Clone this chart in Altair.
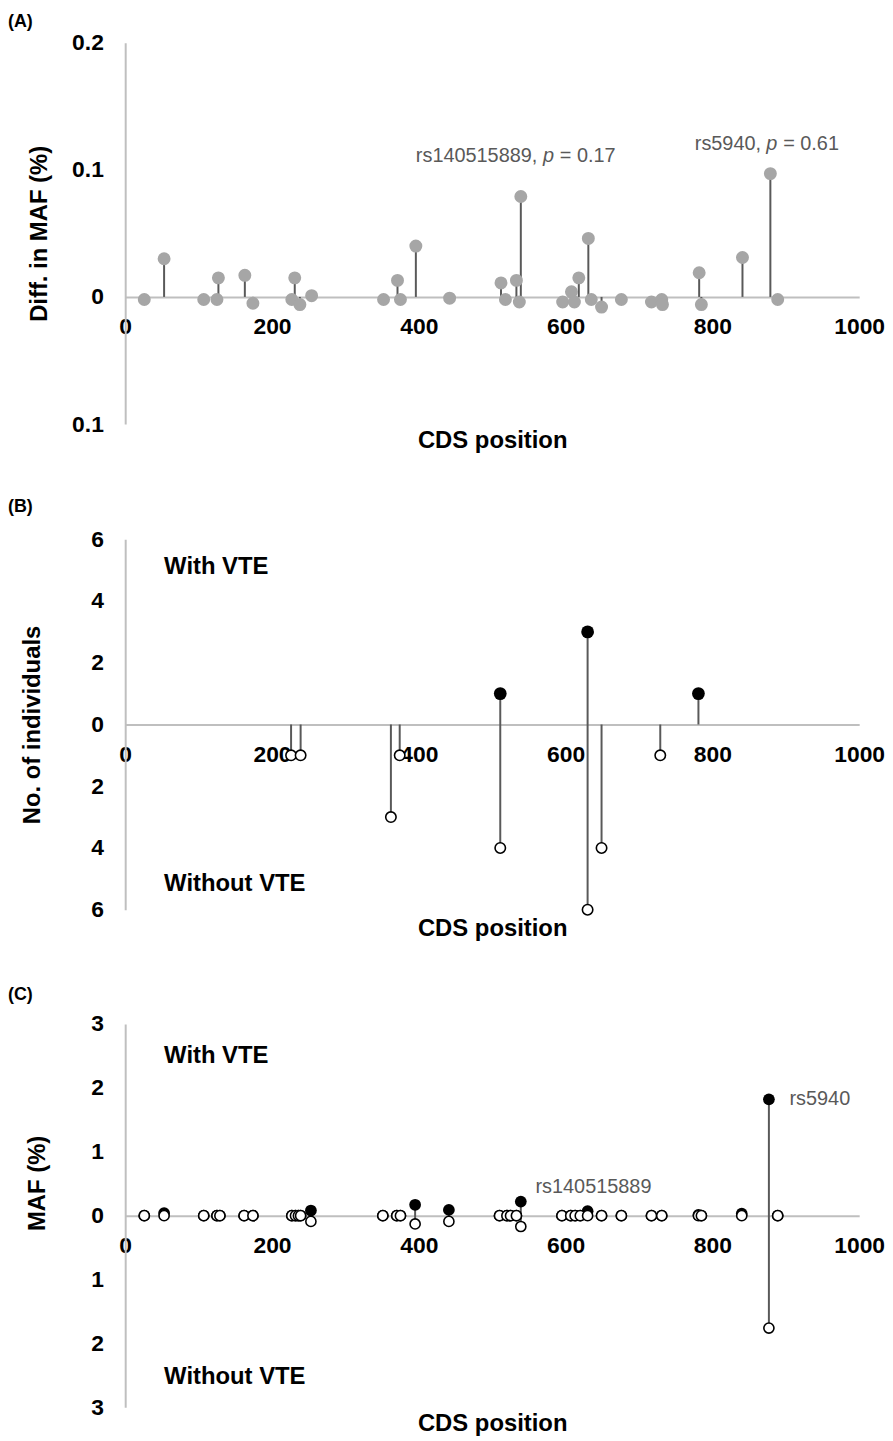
import altair as alt
import pandas as pd

# ---------------- data ----------------
x_ticks = [0, 200, 400, 600, 800, 1000]

# Panel A: difference in MAF (%)
pos_a = [26, 53, 107, 125, 127, 163, 174, 227, 231, 238, 254, 352, 371, 375, 396, 442,
         512, 518, 533, 537, 539, 596, 608, 612, 618, 631, 635, 649, 676, 717, 731, 732,
         782, 785, 841, 879, 889]
diff_a = [-0.002, 0.030, -0.002, -0.002, 0.015, 0.017, -0.005, -0.002, 0.015, -0.006, 0.001,
          -0.002, 0.013, -0.002, 0.040, -0.001, 0.011, -0.002, 0.013, -0.004, 0.079, -0.004,
          0.004, -0.004, 0.015, 0.046, -0.002, -0.008, -0.002, -0.004, -0.002, -0.006,
          0.019, -0.006, 0.031, 0.097, -0.002]
ya_ticks = [-0.1, 0, 0.1, 0.2]
ann_a_pos = [396, 776]
ann_a_val = [0.111, 0.120]
ann_a_prefix = ["rs140515889,", "rs5940,"]
ann_a_suffix = ["= 0.17", "= 0.61"]

# Panel B: number of individuals
pos_b = [226, 239, 362, 374, 511, 630, 649, 729, 781]
with_b = [0, 0, 0, 0, 1, 3, 0, 0, 1]
without_b = [1, 1, 3, 1, 4, 6, 4, 1, 0]
yb_ticks = [-6, -4, -2, 0, 2, 4, 6]

# Panel C: MAF (%)
pos_c = [26, 53, 107, 125, 129, 162, 174, 227, 232, 236, 239, 253, 351, 370, 375, 395, 441,
         510, 520, 525, 533, 539, 595, 607, 613, 620, 630, 649, 676, 717, 731, 781, 785,
         840, 877, 889]
with_c = [0, 0.04, 0, 0, 0, 0, 0, 0, 0, 0, 0, 0.08, 0, 0, 0, 0.17, 0.09,
          0, 0, 0, 0, 0.22, 0, 0, 0, 0, 0.07, 0, 0, 0, 0, 0.01, 0,
          0.03, 1.82, 0]
without_c = [0, 0, 0, 0, 0, 0, 0, 0, 0, 0, 0, 0.09, 0, 0, 0, 0.13, 0.09,
             0, 0, 0, 0, 0.17, 0, 0, 0, 0, 0, 0, 0, 0, 0, 0, 0,
             0, 1.76, 0]
yc_ticks = [-3, -2, -1, 0, 1, 2, 3]
ann_c_pos = [559, 905]
ann_c_val = [0.44, 1.82]
ann_c_text = ["rs140515889", "rs5940"]

group_text = ["With VTE", "Without VTE"]
group_pos = [53, 53]
group_val_b = [5.1, -5.18]
group_val_c = [2.5, -2.53]

# ---------------- style ----------------
FONT = "Liberation Sans"
AXIS_GRAY = "#bfbfbf"
STEM = "#595959"
W = 739
TICK_FS = 23
TITLE_FS = 24


def x_enc(offset, title_y):
    return alt.X("pos:Q", scale=alt.Scale(domain=[0, 1000], nice=False, zero=False),
                 axis=alt.Axis(values=x_ticks, labelExpr="'' + datum.value", offset=offset,
                               domainColor=AXIS_GRAY, domainWidth=2,
                               ticks=False, grid=False, labelPadding=19, labelFontSize=TICK_FS,
                               labelFont=FONT, labelFontWeight="bold", labelColor="black",
                               labelFlush=False, labelOverlap=False,
                               title="CDS position", titleFont=FONT, titleFontSize=TITLE_FS,
                               titleFontWeight="bold", titleColor="black",
                               titleY=title_y, titleBaseline="middle"))


def y_enc(domain, values, title, title_x, title_y=None):
    kw = dict(values=values, labelExpr="'' + abs(datum.value)", domainColor=AXIS_GRAY,
              domainWidth=2, ticks=False, grid=False, labelPadding=22, labelFontSize=TICK_FS,
              labelFont=FONT, labelFontWeight="bold", labelColor="black", labelOverlap=False,
              labelFlush=False,
              title=title, titleFont=FONT, titleFontSize=TITLE_FS, titleFontWeight="bold",
              titleColor="black", titleX=title_x, titleBaseline="middle")
    if title_y is not None:
        kw["titleY"] = title_y
    return alt.Y("val:Q", scale=alt.Scale(domain=domain, nice=False, zero=False),
                 axis=alt.Axis(**kw))


def panel_label(txt, y):
    return alt.Chart(pd.DataFrame({"t": [txt]})).mark_text(
        font=FONT, fontSize=18, fontWeight="bold", align="left", baseline="top", color="black"
    ).encode(x=alt.value(-118), y=alt.value(y), text="t:N")


# ---------------- panel A ----------------
HA = 384
xa = x_enc(-128, 145)
ya = y_enc([-0.1, 0.2], ya_ticks, "Diff. in MAF (%)", -86)
df_a = pd.DataFrame({"pos": pos_a, "val": diff_a})
base_a = alt.Chart(df_a).encode(x=xa, y=ya)
stems_a = base_a.transform_calculate(zero="0").mark_rule(color=STEM, strokeWidth=2).encode(
    y2="zero:Q")
pts_a = base_a.mark_circle(size=170, color="#a6a6a6", opacity=1)
ann_a = pd.DataFrame({"pos": ann_a_pos, "val": ann_a_val, "pre": ann_a_prefix,
                      "suf": ann_a_suffix})
ann_style = dict(font=FONT, fontSize=20, color=STEM, align="left", baseline="middle")
ann_pre = alt.Chart(ann_a).mark_text(**ann_style).encode(x=xa, y=ya, text="pre:N")
ann_p1 = alt.Chart(ann_a.iloc[[0]]).mark_text(fontStyle="italic", dx=128, **ann_style).encode(
    x=xa, y=ya, text=alt.value("p"))
ann_s1 = alt.Chart(ann_a.iloc[[0]]).mark_text(dx=145, **ann_style).encode(x=xa, y=ya, text="suf:N")
ann_p2 = alt.Chart(ann_a.iloc[[1]]).mark_text(fontStyle="italic", dx=72, **ann_style).encode(
    x=xa, y=ya, text=alt.value("p"))
ann_s2 = alt.Chart(ann_a.iloc[[1]]).mark_text(dx=89, **ann_style).encode(x=xa, y=ya, text="suf:N")
panel_a = alt.layer(stems_a, pts_a, ann_pre, ann_p1, ann_s1, ann_p2, ann_s2,
                    panel_label("(A)", -30)).properties(width=W, height=HA)

# ---------------- panel B ----------------
HB = 373
xb = x_enc(-186.5, 205.5)
yb = y_enc([-6, 6], yb_ticks, "No. of individuals", -93)
df_b = pd.DataFrame({"pos": pos_b, "w": with_b, "wo": without_b})
stems_b = alt.Chart(df_b).transform_calculate(val="datum.w", val2="-datum.wo").mark_rule(
    color=STEM, strokeWidth=2).encode(x=xb, y=yb, y2="val2:Q")
filled_b = alt.Chart(df_b).transform_filter("datum.w > 0").transform_calculate(
    val="datum.w").mark_circle(size=165, color="black", opacity=1).encode(x=xb, y=yb)
open_b = alt.Chart(df_b).transform_filter("datum.wo > 0").transform_calculate(
    val="-datum.wo").mark_circle(size=110, fill="white", stroke="black", strokeWidth=1.6,
                                 opacity=1).encode(x=xb, y=yb)
grp_b = alt.Chart(pd.DataFrame({"pos": group_pos, "val": group_val_b, "t": group_text})
                  ).mark_text(font=FONT, fontSize=24, fontWeight="bold", align="left",
                              baseline="middle", color="black").encode(x=xb, y=yb, text="t:N")
panel_b = alt.layer(stems_b, filled_b, open_b, grp_b, panel_label("(B)", -41)).properties(
    width=W, height=HB)

# ---------------- panel C ----------------
HC = 386
xc = x_enc(-193, 209)
yc = y_enc([-3, 3], yc_ticks, "MAF (%)", -88, 160)
df_c = pd.DataFrame({"pos": pos_c, "w": with_c, "wo": without_c})
stems_c = alt.Chart(df_c).transform_calculate(val="datum.w", val2="-datum.wo").mark_rule(
    color=STEM, strokeWidth=2).encode(x=xc, y=yc, y2="val2:Q")
filled_c = alt.Chart(df_c).transform_calculate(val="datum.w").mark_circle(
    size=140, color="black", opacity=1).encode(x=xc, y=yc)
open_c = alt.Chart(df_c).transform_calculate(val="-datum.wo").mark_circle(
    size=104, fill="white", stroke="black", strokeWidth=1.6, opacity=1).encode(x=xc, y=yc)
grp_c = alt.Chart(pd.DataFrame({"pos": group_pos, "val": group_val_c, "t": group_text})
                  ).mark_text(font=FONT, fontSize=24, fontWeight="bold", align="left",
                              baseline="middle", color="black").encode(x=xc, y=yc, text="t:N")
ann_c = alt.Chart(pd.DataFrame({"pos": ann_c_pos, "val": ann_c_val, "t": ann_c_text})
                  ).mark_text(**ann_style).encode(x=xc, y=yc, text="t:N")
panel_c = alt.layer(stems_c, filled_c, open_c, grp_c, ann_c, panel_label("(C)", -38)).properties(
    width=W, height=HC)

chart = alt.vconcat(panel_a, panel_b, panel_c, spacing=46).properties(padding=0).configure(
    font=FONT).configure_view(stroke=None)

chart.save("out.html", embed_options={"renderer": "svg", "actions": False})
